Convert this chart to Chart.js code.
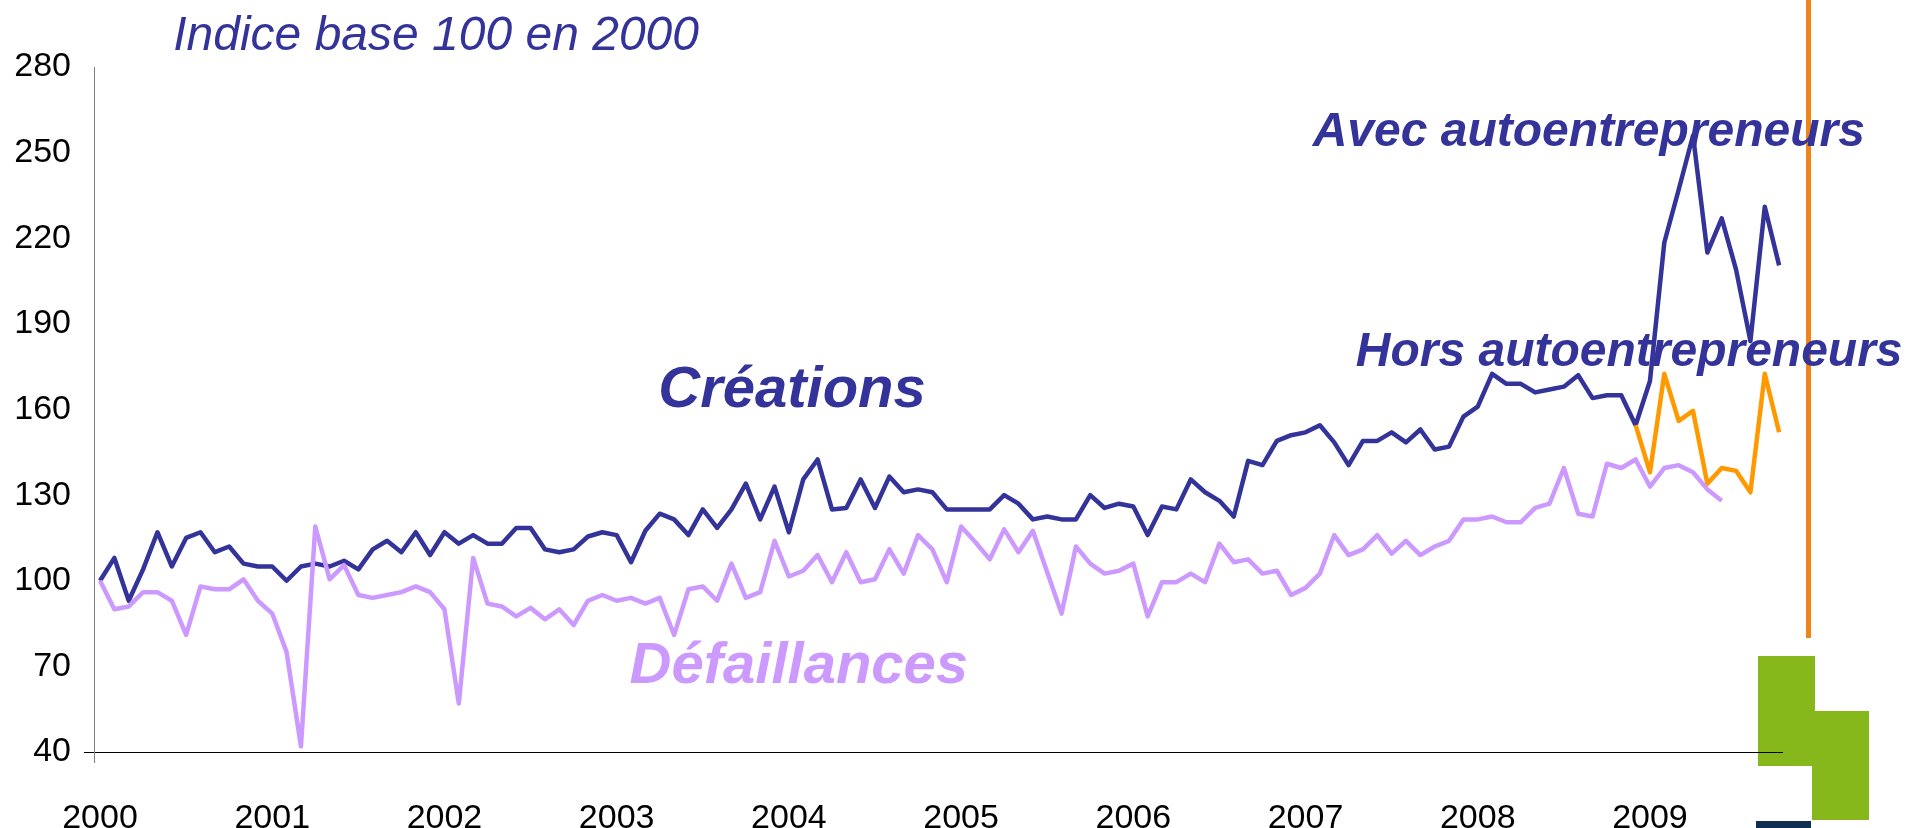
<!DOCTYPE html>
<html lang="fr">
<head>
<meta charset="utf-8">
<title>Créations et défaillances d'entreprises</title>
<script src="https://cdn.jsdelivr.net/npm/chart.js@4.4.1/dist/chart.umd.min.js"></script>
<style>
  html, body { margin: 0; padding: 0; background: #fff; }
  #graphique { display: block; }
</style>
</head>
<body>
<canvas id="graphique" width="1923" height="828"></canvas>
<script>
// Indice base 100 en 2000, séries mensuelles à partir de janvier 2000
var annees = ["2000", "2001", "2002", "2003", "2004", "2005", "2006", "2007", "2008", "2009"];

var creations = [
  100, 108, 93, 104, 117, 105, 115, 117, 110, 112, 106, 105,
  105, 100, 105, 106, 105, 107, 104, 111, 114, 110, 117, 109,
  117, 113, 116, 113, 113, 118.5, 118.5, 111, 110, 111, 115.5, 117,
  116, 106.5, 117.5, 123.5, 121.5, 116, 125, 118.5, 125, 134, 121.5, 133,
  117, 135.5, 142.5, 125, 125.5, 135.5, 125.5, 136.5, 131, 132, 131, 125,
  125, 125, 125, 130, 127, 121.5, 122.5, 121.5, 121.5, 130, 125.5, 127,
  126, 116, 126, 125, 135.5, 131, 128, 122.5, 142, 140.5, 149, 151,
  152, 154.5, 148.5, 140.5, 149, 149, 152, 148.5, 153, 146, 147, 157.5,
  161, 172.5, 169, 169, 166, 167, 168, 172, 164, 165, 165, 154.5,
  170, 218.5, 237, 256, 215, 227, 209, 184, 231, 210.5
];

var defaillances = [
  100, 90, 91, 96, 96, 93, 81, 98, 97, 97, 100.5, 93,
  88.5, 75, 42, 119, 100.5, 105.5, 95, 94, 95, 96, 98, 96,
  90, 57, 108, 92, 91, 87.5, 90.5, 86.5, 90, 84.5, 93, 95,
  93, 94, 92, 94, 81, 97, 98, 93, 106, 94, 96, 114,
  101.5, 103.5, 109, 99.5, 110, 99.5, 100.5, 111, 102.5, 116, 111, 99.5,
  119, 113.5, 107.5, 118, 110, 117.5, 103, 88.5, 112, 106, 102.5, 103.5,
  106, 87.5, 99.5, 99.5, 102.5, 99.5, 113, 106.5, 107.5, 102.5, 103.5, 95,
  97.5, 102.5, 116, 109, 111, 116, 109.5, 114, 109, 112, 114, 121.5,
  121.5, 122.5, 120.5, 120.5, 125.5, 127, 139.5, 123.5, 122.5, 141, 139.5, 142.5,
  133, 139.5, 140.5, 138, 132, 128
];

// créations hors autoentrepreneurs, à partir de décembre 2008
var horsAutoentrepreneurs = [154.5, 138, 172.5, 156, 159.5, 134, 139.5, 138.5, 131, 172.5, 152];
var debutHorsAuto = 107;

var police = '"Liberation Sans", Arial, sans-serif';

function enPoints(valeurs, debut) {
  return valeurs.map(function (v, i) {
    return { x: debut + i, y: v };
  });
}

var decor = {
  id: 'decor',
  beforeDraw: function (chart) {
    var ctx = chart.ctx;
    var zone = chart.chartArea;
    ctx.save();
    // logo en bas à droite
    ctx.fillStyle = '#86b81b';
    ctx.fillRect(zone.right - 25, zone.bottom - 96, 57, 110);
    ctx.fillRect(zone.right + 29, zone.bottom - 41, 57, 109);
    ctx.fillStyle = '#0e2f4f';
    ctx.fillRect(zone.right - 27, zone.bottom + 69, 55, 10);
    // barre orange verticale
    ctx.fillStyle = '#ef8419';
    ctx.fillRect(zone.right + 23, 0, 5, zone.bottom - 114);
    ctx.restore();
  },
  afterDraw: function (chart) {
    var ctx = chart.ctx;
    var zone = chart.chartArea;
    var sx = chart.scales.x, sy = chart.scales.y;
    ctx.save();
    // l'axe vertical dépasse un peu sous l'axe horizontal
    ctx.strokeStyle = '#808080';
    ctx.lineWidth = 1;
    ctx.beginPath();
    ctx.moveTo(zone.left + 0.5, zone.bottom);
    ctx.lineTo(zone.left + 0.5, zone.bottom + 11);
    ctx.stroke();

    ctx.textAlign = 'left';
    ctx.textBaseline = 'alphabetic';

    ctx.fillStyle = '#333399';
    ctx.font = 'italic 48px ' + police;
    ctx.fillText('Indice base 100 en 2000', sx.getPixelForValue(5.1), sy.getPixelForValue(286));

    ctx.font = 'italic bold 58px ' + police;
    ctx.fillText('Créations', sx.getPixelForValue(38.9), sy.getPixelForValue(160.9));

    ctx.fillStyle = '#cc99ff';
    ctx.fillText('Défaillances', sx.getPixelForValue(36.9), sy.getPixelForValue(64.2));

    ctx.fillStyle = '#333399';
    ctx.font = 'italic bold 48px ' + police;
    ctx.fillText('Avec autoentrepreneurs', sx.getPixelForValue(84.5), sy.getPixelForValue(252.3));
    ctx.fillText('Hors autoentrepreneurs', sx.getPixelForValue(87.5), sy.getPixelForValue(175.2));
    ctx.restore();
  }
};

new Chart(document.getElementById('graphique'), {
  type: 'line',
  data: {
    datasets: [
      {
        label: 'Défaillances',
        data: enPoints(defaillances, 0),
        borderColor: '#cc99ff',
        borderWidth: 4.5,
        order: 0
      },
      {
        label: 'Hors autoentrepreneurs',
        data: enPoints(horsAutoentrepreneurs, debutHorsAuto),
        borderColor: '#ff9900',
        borderWidth: 4.5,
        order: 1
      },
      {
        label: 'Créations',
        data: enPoints(creations, 0),
        borderColor: '#333399',
        borderWidth: 4.5,
        order: 2
      }
    ]
  },
  options: {
    responsive: false,
    animation: false,
    devicePixelRatio: 1,
    layout: { padding: { top: 67, right: 140, left: 0, bottom: 0 } },
    elements: {
      point: { radius: 0 },
      line: { tension: 0, fill: false, borderJoinStyle: 'round' }
    },
    plugins: {
      legend: { display: false },
      tooltip: { enabled: false }
    },
    scales: {
      x: {
        type: 'linear',
        min: -0.42,
        max: 117.27,
        afterBuildTicks: function (axis) {
          axis.ticks = annees.map(function (a, k) { return { value: k * 12 }; });
        },
        ticks: {
          callback: function (v) { return annees[Math.round(v / 12)]; },
          font: { size: 34, family: police },
          color: '#000',
          padding: 38,
          maxRotation: 0,
          autoSkip: false
        },
        grid: { display: false },
        border: { display: false },
        afterFit: function (axis) { axis.height = 76; }
      },
      y: {
        min: 40,
        max: 280,
        ticks: {
          stepSize: 30,
          font: { size: 34, family: police },
          color: '#000',
          padding: 13
        },
        grid: {
          color: function (c) { return c.tick.value === 40 ? '#000' : 'rgba(0,0,0,0)'; },
          lineWidth: 1,
          tickLength: 10
        },
        border: { display: true, color: '#808080', width: 1 },
        afterFit: function (axis) { axis.width = 94; }
      }
    }
  },
  plugins: [decor]
});
</script>
</body>
</html>
